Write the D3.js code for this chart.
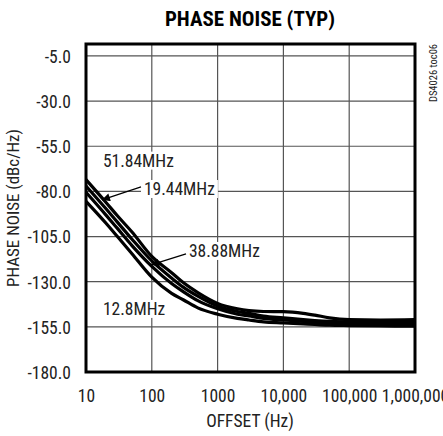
<!DOCTYPE html>
<html><head><meta charset="utf-8">
<script src="https://cdn.jsdelivr.net/npm/d3@7"></script>
<style>
html,body{margin:0;padding:0;background:#fff;}
svg text{font-family:"Liberation Sans Narrow","Arial Narrow","Roboto Condensed","DejaVu Sans Condensed",sans-serif;fill:#222;}
</style></head>
<body><svg id="c" width="443" height="436"></svg>
<script>
const freqs = [10, 20, 30, 50, 100, 200, 300, 500, 1000, 2000, 3000, 5000, 10000, 20000, 30000, 50000, 100000, 300000, 1000000];
const s5184 = [-73.5, -86, -93.5, -102.5, -116, -125, -130.5, -136, -142, -145, -146, -146.5, -146.6, -147.5, -148.5, -150, -151, -151.2, -151];
const s1944 = [-77, -89.5, -97, -106.5, -118.5, -128, -133, -138, -143.5, -146.5, -147.5, -149, -150, -151, -151.5, -152, -152.3, -152.5, -152.5];
const s3888 = [-80.5, -93, -100.5, -110, -121.5, -131, -135.5, -140.5, -145, -148, -149, -150.3, -151.2, -152, -152.5, -153, -153.3, -153.5, -153.5];
const s128  = [-85.5, -97.5, -105, -114.5, -127.5, -136.5, -140, -144.5, -148, -150.3, -151.2, -152.2, -152.8, -153.4, -153.7, -154.1, -154.3, -154.5, -154.6];
const seriesNames = ["51.84MHz", "19.44MHz", "38.88MHz", "12.8MHz"];
const seriesValues = [s5184, s1944, s3888, s128];

const xTickValues = [10, 100, 1000, 10000, 100000, 1000000];
const xTickLabels = ["10", "100", "1000", "10,000", "100,000", "1,000,000"];
const yTickValues = [-5, -30, -55, -80, -105, -130, -155, -180];
const yTickLabels = ["-5.0", "-30.0", "-55.0", "-80.0", "-105.0", "-130.0", "-155.0", "-180.0"];

// annotation labels: [text, freq, value]
const labelTexts = ["51.84MHz", "19.44MHz", "38.88MHz", "12.8MHz"];
const labelFreqs = [18.1, 76, 367, 18.1];
const labelVals = [-66.3, -82.0, -116.3, -148.4];
// arrows: from (freq,value) to tip (freq,value)
const arrowFrom = [[68.5, -77.5], [331, -114.6]];
const arrowTo = [[17.5, -84.7], [97.3, -120.7]];

const title = "PHASE NOISE (TYP)";
const xTitle = "OFFSET (Hz)";
const yTitle = "PHASE NOISE (dBc/Hz)";
const sideNote = "DS4026 toc06";

const svg = d3.select("#c");
const L = 86, R = 415, T = 44, B = 372;
const x = d3.scaleLog().domain([10, 1000000]).range([L, R]);
const y = d3.scaleLinear().domain([-180, 1.6]).range([B, T]);

// grid
const g = svg.append("g");
g.selectAll("line.vx").data(xTickValues.slice(1, -1)).join("line")
  .attr("x1", d => x(d)).attr("x2", d => x(d)).attr("y1", T).attr("y2", B)
  .attr("stroke", "#555").attr("stroke-width", 1.2);
g.selectAll("line.hy").data(yTickValues.slice(0, -1)).join("line")
  .attr("y1", d => y(d)).attr("y2", d => y(d)).attr("x1", L).attr("x2", R)
  .attr("stroke", "#555").attr("stroke-width", 1.2);

// label backgrounds & labels
const lab = svg.append("g");
const labs = lab.selectAll("g").data(labelTexts).join("g");
labs.each(function(t, i) {
  const gg = d3.select(this);
  const tx = gg.append("text").attr("x", x(labelFreqs[i])).attr("y", y(labelVals[i]))
    .attr("font-size", 17.5).text(t);
  const bb = tx.node().getBBox();
  gg.insert("rect", "text").attr("x", bb.x - 3).attr("y", bb.y + 1).attr("width", bb.width + 6).attr("height", bb.height - 2)
    .attr("fill", "#fff");
});

// curves
const line = d3.line().x((d, i) => x(freqs[i])).y(d => y(d)).curve(d3.curveMonotoneX);
svg.append("g").selectAll("path").data(seriesValues).join("path")
  .attr("d", d => line(d)).attr("fill", "none").attr("stroke", "#000").attr("stroke-width", 3.2)
  .attr("stroke-linejoin", "round");

// arrows
svg.append("defs").append("marker").attr("id", "ah").attr("viewBox", "0 0 10 10")
  .attr("refX", 10).attr("refY", 5).attr("markerWidth", 12).attr("markerHeight", 8)
  .attr("markerUnits", "userSpaceOnUse").attr("orient", "auto")
  .append("path").attr("d", "M0,0 L10,5 L0,10 z").attr("fill", "#000");
svg.append("g").selectAll("line").data(arrowFrom).join("line")
  .attr("x1", d => x(d[0])).attr("y1", d => y(d[1]))
  .attr("x2", (d, i) => x(arrowTo[i][0])).attr("y2", (d, i) => y(arrowTo[i][1]))
  .attr("stroke", "#000").attr("stroke-width", 1.3).attr("marker-end", "url(#ah)");

// frame
svg.append("rect").attr("x", L).attr("y", T).attr("width", R - L).attr("height", B - T)
  .attr("fill", "none").attr("stroke", "#000").attr("stroke-width", 3);

// axes (text only)
const xAxis = d3.axisBottom(x).tickValues(xTickValues).tickFormat((d, i) => xTickLabels[i]).tickSize(0).tickPadding(0);
const xa = svg.append("g").attr("transform", `translate(0,${B})`).call(xAxis);
xa.select(".domain").remove();
xa.selectAll("text").attr("font-size", 17.5).attr("dy", null).attr("y", 30).attr("fill", "#222");

const yAxis = d3.axisLeft(y).tickValues(yTickValues).tickFormat((d, i) => yTickLabels[i]).tickSize(0).tickPadding(0);
const ya = svg.append("g").attr("transform", `translate(71,0)`).call(yAxis);
ya.select(".domain").remove();
ya.selectAll("text").attr("font-size", 17.5).attr("x", 0).attr("dy", "0.36em").attr("fill", "#222");

svg.append("text").attr("x", 250).attr("y", 26).attr("text-anchor", "middle")
  .attr("font-size", 21).attr("font-weight", "bold").style("fill", "#000").text(title);
svg.append("text").attr("x", 250).attr("y", 427).attr("text-anchor", "middle")
  .attr("font-size", 17.5).text(xTitle);
svg.append("text").attr("transform", `translate(19,${(T + B) / 2}) rotate(-90)`).attr("text-anchor", "middle")
  .attr("font-size", 17).text(yTitle);
svg.append("text").attr("transform", `translate(437,44) rotate(-90)`).attr("text-anchor", "end")
  .attr("font-size", 10.5).text(sideNote);
</script></body></html>
